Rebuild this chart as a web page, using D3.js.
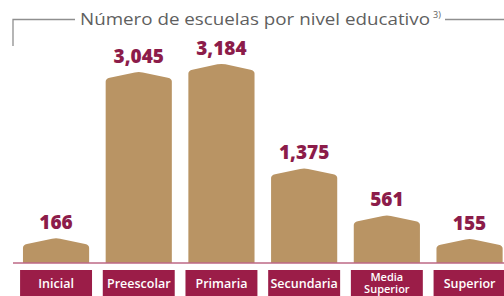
<!DOCTYPE html>
<html><head><meta charset="utf-8">
<script src="https://cdn.jsdelivr.net/npm/d3@7"></script>
<style>body{margin:0;background:#fff}svg{display:block}</style>
</head><body>
<svg id="c" width="504" height="296"></svg>
<script>
const categories = ["Inicial","Preescolar","Primaria","Secundaria","Media Superior","Superior"];
const categoryLines = [["Inicial"],["Preescolar"],["Primaria"],["Secundaria"],["Media","Superior"],["Superior"]];
const values = [166, 3045, 3184, 1375, 561, 155];
const valueLabels = ["166","3,045","3,184","1,375","561","155"];
const title = "Número de escuelas por nivel educativo";
const titleNote = "3)";

const W = 504, H = 296, base = 262.5;
const svg = d3.select("#c");
const x = d3.scaleBand().domain(categories).range([14.7, 510.9]).padding(0);
const y = d3.scaleLinear().domain([0, 3184]).range([base - 8, base - 192]);
const roof = 7;
const barW = x.bandwidth() * 0.8;
const boxW = x.bandwidth() * 0.87;

const barColor = "#b99464", maroon = "#8c1c4a", boxColor = "#9b1d48";

// frame lines
const g = svg.append("g");
g.append("path").attr("d","M13,46V19.5H75").attr("fill","none").attr("stroke","#8f8f8f").attr("stroke-width",1.3);
g.append("path").attr("d","M445,19.5H504").attr("fill","none").attr("stroke","#8f8f8f").attr("stroke-width",1.3);
g.append("text").attr("x",80).attr("y",25).attr("font-family","Open Sans, sans-serif")
  .attr("font-size",16.3).attr("font-weight",500).attr("fill","#5f5f5f").attr("textLength",350).attr("lengthAdjust","spacingAndGlyphs").text(title);
g.append("text").attr("x",433).attr("y",18).attr("font-family","Open Sans, sans-serif")
  .attr("font-size",9).attr("font-weight",500).attr("fill","#5f5f5f").text(titleNote);

function house(d,i){
  const cx = x(categories[i]) + x.bandwidth()/2;
  const x0 = cx - barW/2, x1 = cx + barW/2;
  const yc = y(d), ya = yc - roof;
  const s = roof/(barW/2);
  const r = 4;
  return `M${x0},${base}L${x0},${yc+3}Q${x0},${yc} ${x0+r},${yc-r*s}` +
    `L${cx-r},${ya+r*s}Q${cx},${ya} ${cx+r},${ya+r*s}` +
    `L${x1-r},${yc-r*s}Q${x1},${yc} ${x1},${yc+3}L${x1},${base}Z`;
}
svg.append("g").selectAll("path").data(values).join("path")
  .attr("d", house).attr("fill", barColor);

svg.append("g").selectAll("text").data(values).join("text")
  .attr("x",(d,i)=>x(categories[i]) + x.bandwidth()/2)
  .attr("y",d=>y(d) - roof - 9)
  .attr("text-anchor","middle").attr("font-family","Open Sans, sans-serif")
  .attr("font-weight",800).attr("font-size",19).attr("fill",maroon)
  .text((d,i)=>valueLabels[i]);

svg.append("line").attr("x1",13).attr("x2",504).attr("y1",base+0.5).attr("y2",base+0.5)
  .attr("stroke",boxColor).attr("stroke-width",1);

const boxes = svg.append("g").selectAll("g").data(categories).join("g")
  .attr("transform",d=>`translate(${x(d)+x.bandwidth()/2},270)`);
boxes.append("rect").attr("x",-boxW/2).attr("y",0).attr("width",boxW).attr("height",30).attr("fill",boxColor);
boxes.each(function(d,i){
  const lines = categoryLines[i];
  const tt = d3.select(this).append("text").attr("text-anchor","middle")
    .attr("font-family","Open Sans, sans-serif").attr("font-weight",600)
    .attr("font-size",lines.length===1?12.5:11).attr("fill","#fff");
  if(lines.length===1){
    tt.append("tspan").attr("x",0).attr("y",18).text(lines[0]);
  } else {
    tt.append("tspan").attr("x",0).attr("y",10.5).text(lines[0]);
    tt.append("tspan").attr("x",0).attr("y",23).text(lines[1]);
  }
});
</script>
</body></html>
